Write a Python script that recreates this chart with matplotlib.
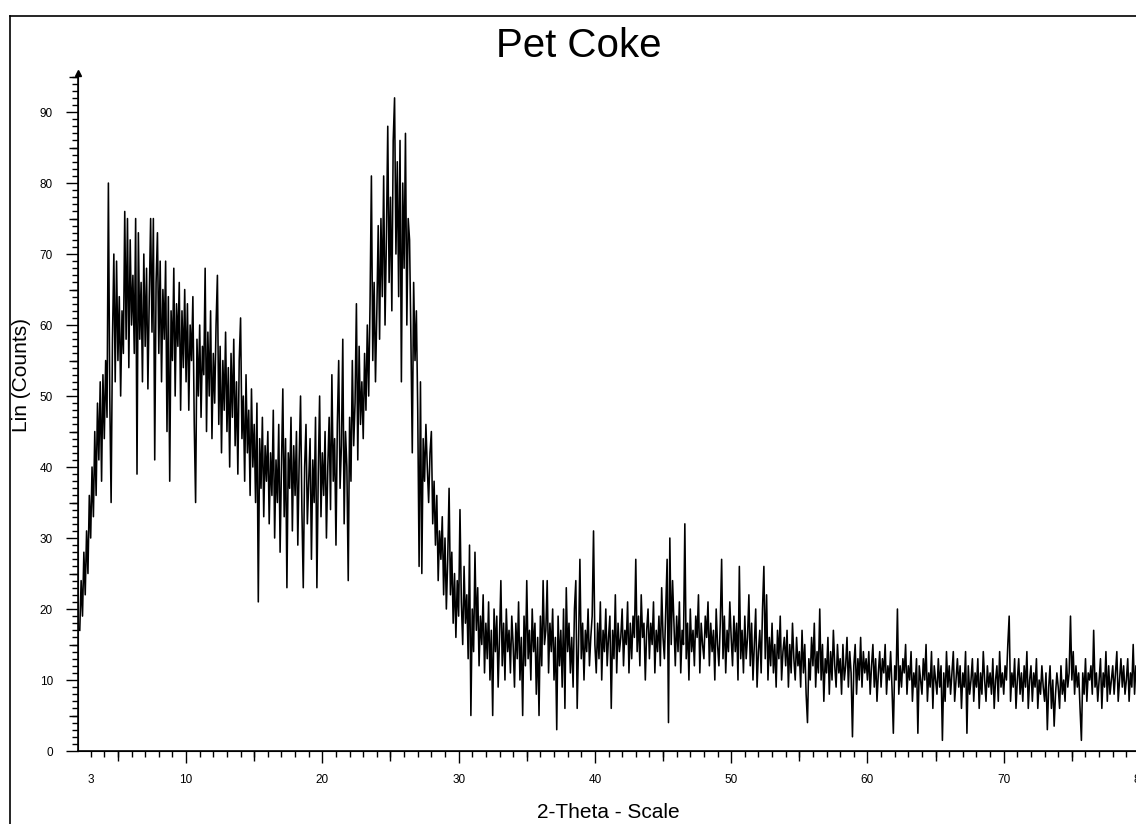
import numpy as np
import matplotlib.pyplot as plt
from matplotlib.ticker import MultipleLocator
from matplotlib.lines import Line2D

plt.rcParams['font.family'] = ['Liberation Sans', 'DejaVu Sans']

# scan: 2.2 deg to 80.0 deg, 0.1 deg step, counts
start_angle = 2.2
step = 0.1
counts = [
    17, 24, 19, 28, 22, 31, 25, 36,                  # 2.2 - 2.9
    30, 40, 33, 45, 36, 49, 41, 52, 38, 53,          # 3
    44, 55, 47, 80, 50, 35, 58, 70, 52, 69,          # 4
    55, 64, 50, 62, 56, 76, 58, 75, 54, 72,          # 5
    60, 67, 56, 75, 39, 73, 58, 66, 52, 70,          # 6
    57, 68, 51, 64, 75, 59, 75, 41, 66, 73,          # 7
    56, 69, 52, 65, 58, 69, 45, 64, 38, 62,          # 8
    55, 68, 50, 63, 57, 66, 48, 62, 54, 65,          # 9
    52, 63, 48, 60, 55, 64, 46, 35, 58, 50,          # 10
    60, 47, 57, 53, 68, 45, 59, 50, 62, 44,          # 11
    56, 49, 60, 67, 46, 57, 42, 55, 48, 59,          # 12
    45, 54, 40, 56, 47, 58, 43, 52, 39, 55,          # 13
    61, 44, 50, 38, 53, 42, 48, 36, 51, 40,          # 14
    46, 35, 49, 21, 44, 37, 47, 33, 43, 38,          # 15
    45, 32, 42, 36, 48, 30, 41, 35, 46, 28,          # 16
    40, 51, 33, 44, 23, 42, 37, 47, 31, 43,          # 17
    36, 45, 29, 41, 50, 34, 23, 40, 46, 32,          # 18
    38, 44, 27, 41, 35, 47, 23, 39, 50, 33,          # 19
    42, 36, 45, 30, 40, 47, 34, 53, 38, 44,          # 20
    29, 46, 55, 37, 43, 58, 32, 45, 40, 24,          # 21
    47, 38, 55, 43, 49, 63, 41, 57, 46, 52,          # 22
    44, 56, 48, 60, 50, 63, 81, 55, 66, 52,          # 23
    62, 74, 58, 75, 64, 81, 60, 72, 88, 66,          # 24
    78, 62, 86, 92, 70, 83, 64, 86, 52, 80,          # 25
    68, 87, 60, 75, 72, 58, 42, 66, 55, 62,          # 26
    48, 26, 52, 25, 44, 38, 46, 40, 35, 42,          # 27
    45, 32, 38, 29, 36, 24, 31, 27, 33, 22,          # 28
    30, 20, 27, 37, 22, 28, 18, 25, 16, 24,          # 29
    19, 34, 21, 15, 26, 18, 22, 13, 29, 5,           # 30
    20, 14, 28, 17, 23, 12, 19, 15, 22, 11,          # 31
    18, 13, 21, 10, 17, 5, 20, 14, 19, 9,            # 32
    16, 24, 12, 18, 10, 20, 14, 17, 11, 19,          # 33
    15, 9, 18, 13, 21, 10, 16, 5, 19, 12,            # 34
    24, 13, 17, 10, 20, 14, 18, 8, 16, 5,            # 35
    19, 12, 24, 15, 17, 24, 11, 18, 14, 20,          # 36
    10, 16, 3, 19, 12, 17, 9, 20, 6, 23,             # 37
    14, 18, 11, 16, 9, 20, 24, 6, 15, 27,            # 38
    13, 18, 10, 17, 14, 20, 12, 16, 19, 31,          # 39
    15, 11, 18, 13, 21, 10, 17, 14, 20, 12,          # 40
    16, 19, 6, 17, 13, 22, 11, 18, 14, 16,           # 41
    20, 12, 17, 15, 21, 11, 18, 13, 19, 16,          # 42
    27, 14, 19, 12, 22, 16, 18, 10, 17, 20,          # 43
    13, 18, 15, 21, 11, 17, 14, 19, 12, 23,          # 44
    16, 13, 20, 27, 4, 30, 15, 24, 18, 12,           # 45
    19, 14, 21, 11, 17, 15, 32, 13, 18, 10,          # 46
    20, 14, 17, 12, 19, 16, 22, 11, 18, 15,          # 47
    13, 19, 16, 21, 12, 18, 14, 17, 10, 20,          # 48
    15, 12, 18, 27, 13, 19, 11, 17, 14, 21,          # 49
    16, 12, 19, 14, 18, 10, 26, 13, 17, 11,          # 50
    19, 13, 16, 22, 12, 18, 10, 15, 20, 9,           # 51
    14, 17, 11, 20, 26, 13, 22, 10, 16, 12,          # 52
    18, 11, 15, 9, 17, 13, 19, 10, 14, 16,           # 53
    12, 17, 9, 15, 11, 18, 13, 10, 16, 12,           # 54
    14, 9, 17, 11, 15, 8, 4, 13, 10, 16,             # 55
    12, 18, 9, 14, 11, 20, 10, 15, 7, 13,            # 56
    11, 16, 8, 14, 10, 17, 12, 9, 15, 11,            # 57
    13, 8, 15, 10, 12, 16, 9, 14, 11, 2,             # 58
    12, 15, 8, 13, 10, 16, 9, 14, 11, 13,            # 59
    10, 14, 8, 12, 15, 9, 13, 7, 11, 14,             # 60
    9, 13, 11, 15, 8, 12, 10, 14, 9, 2.5,            # 61
    12, 10, 20, 8, 12, 9, 13, 11, 15, 8,             # 62
    12, 10, 14, 7, 11, 9, 13, 2.5, 12, 10,           # 63
    8, 13, 10, 15, 7, 11, 9, 14, 6, 12,              # 64
    10, 8, 13, 9, 12, 1.5, 11, 7, 14, 9,             # 65
    12, 8, 11, 14, 7, 10, 13, 9, 12, 6,              # 66
    11, 9, 14, 2.5, 12, 8, 10, 13, 7, 11,            # 67
    9, 13, 6, 11, 8, 14, 10, 7, 12, 9,               # 68
    11, 8, 13, 6, 10, 12, 7, 14, 9, 11,              # 69
    8, 12, 10, 15, 19, 7, 11, 9, 13, 6,              # 70
    10, 13, 8, 11, 7, 12, 9, 14, 6, 10,              # 71
    12, 7, 11, 9, 13, 6, 10, 8, 12, 9,               # 72
    7, 11, 3, 9, 12, 6, 10, 3.5, 8, 11,              # 73
    9, 6, 12, 8, 10, 7, 13, 9, 11, 19,               # 74
    10, 14, 8, 12, 9, 11, 6, 1.5, 11, 8,             # 75
    13, 7, 11, 10, 12, 8, 17, 9, 11, 7,              # 76
    10, 13, 6, 11, 9, 14, 7, 12, 8, 10,              # 77
    12, 8, 11, 14, 7, 10, 13, 9, 12, 8,              # 78
    10, 13, 7, 11, 9, 15, 8, 12, 10, 13,             # 79
    9,                                               # 80
]
two_theta = start_angle + step * np.arange(len(counts))

W, H = 1136, 824
fig = plt.figure(figsize=(W / 100, H / 100), dpi=100)
ax = fig.add_axes([78 / W, 73 / H, 1062 / W, 678 / H])

ax.plot(two_theta, counts, color='black', lw=1.15)

ax.set_xlim(2.07, 80)
ax.set_ylim(0, 95.5)
for s in ('top', 'right'):
    ax.spines[s].set_visible(False)
ax.spines['left'].set_linewidth(1.2)
ax.spines['bottom'].set_linewidth(1.2)

# x ticks: 10s major, 5s medium, 1s minor
ax.set_xticks(np.arange(10, 81, 10))
ax.xaxis.set_minor_locator(MultipleLocator(1))
ax.tick_params(axis='x', which='major', length=8.6, width=1, pad=8, labelsize=8.5)
ax.tick_params(axis='x', which='minor', length=4.3, width=1)
secx = ax.secondary_xaxis('bottom')
secx.set_xticks(np.arange(5, 80, 10))
secx.tick_params(length=7.2, width=1, labelbottom=False)
ax.text(3, -23 / 678, '3', transform=ax.get_xaxis_transform(),
        ha='center', va='top', fontsize=8.5)

# y ticks
ax.set_yticks(np.arange(0, 91, 10))
ax.yaxis.set_minor_locator(MultipleLocator(1))
ax.tick_params(axis='y', which='major', length=8.6, width=1, pad=9.4, labelsize=8.5)
ax.tick_params(axis='y', which='minor', length=4.3, width=1)
secy = ax.secondary_yaxis('left')
secy.set_yticks(np.arange(5, 96, 10))
secy.tick_params(length=6.5, width=1, labelleft=False)

# arrow head on top of y axis
ax.plot([0], [1], marker='^', markersize=4, color='black',
        transform=ax.transAxes, clip_on=False)

fig.text(579 / W, 1 - 57 / H, 'Pet Coke', fontsize=29, ha='center', va='baseline')
fig.text(608 / W, 1 - 818 / H, '2-Theta - Scale', fontsize=15, ha='center', va='baseline')
fig.text(22 / W, 1 - 375 / H, 'Lin (Counts)', fontsize=15, rotation=90,
         ha='center', va='center')

# outer frame (top and left edges visible)
fig.add_artist(Line2D([10 / W, 1], [1 - 16 / H, 1 - 16 / H], transform=fig.transFigure,
                      color='black', lw=1.2))
fig.add_artist(Line2D([10 / W, 10 / W], [0, 1 - 16 / H], transform=fig.transFigure,
                      color='black', lw=1.2))

fig.savefig('out.png', dpi=100)
